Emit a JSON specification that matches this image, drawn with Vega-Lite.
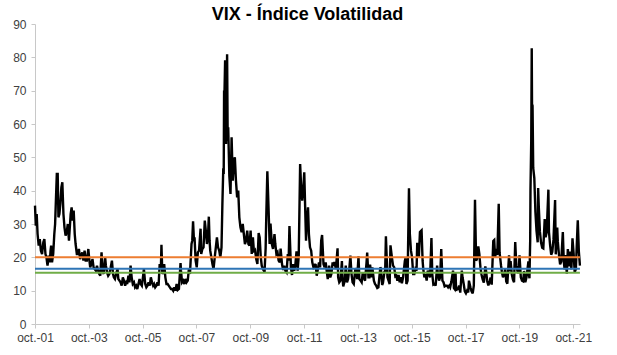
{
  "$schema": "https://vega.github.io/schema/vega-lite/v6.json",
  "width": 545,
  "height": 300,
  "autosize": {"type": "none"},
  "padding": {"left": 35, "top": 24, "right": 37, "bottom": 31},
  "background": "white",
  "config": {"view": {"stroke": null}, "font": "Liberation Sans",
    "axisY": {"values": [0,10,20,30,40,50,60,70,80,90], "title": null, "grid": false, "domainColor": "#c8c8c8", "tickColor": "#c8c8c8", "tickSize": 4, "labelPadding": 5, "labelFontSize": 12, "labelColor": "#404040", "labelFont": "Liberation Sans", "labelOverlap": false, "labelFlush": false},
    "axisX": {"title": null, "grid": false, "domainColor": "#c8c8c8", "tickColor": "#c8c8c8", "tickSize": 4, "labelPadding": 4, "labelFontSize": 12, "labelColor": "#404040", "labelFont": "Liberation Sans", "labelFlush": false, "labelOverlap": false}
  },
  "title": {"text": "VIX - Índice Volatilidad", "anchor": "middle", "offset": 4, "dy": 24, "baseline": "alphabetic", "fontSize": 18, "font": "Liberation Sans", "fontWeight": "bold", "color": "#000000"},
  "datasets": {
    "vix": [
      {"d":"2001-10-01","v":35.5},{"d":"2001-10-12","v":29.5},{"d":"2001-10-24","v":33},{"d":"2001-11-05","v":27},{"d":"2001-11-20","v":23.5},{"d":"2001-12-05","v":25.5},{"d":"2001-12-20","v":22},
      {"d":"2002-01-05","v":21},{"d":"2002-01-22","v":24.5},{"d":"2002-02-05","v":25.5},{"d":"2002-02-20","v":21},{"d":"2002-03-05","v":20},{"d":"2002-03-20","v":17.5},{"d":"2002-04-05","v":20.5},{"d":"2002-04-20","v":18.5},{"d":"2002-04-30","v":22},{"d":"2002-05-08","v":23.5},{"d":"2002-05-20","v":18.5},{"d":"2002-06-05","v":21},{"d":"2002-06-20","v":27},{"d":"2002-07-01","v":30},{"d":"2002-07-10","v":36},{"d":"2002-07-24","v":45},{"d":"2002-08-05","v":45},{"d":"2002-08-15","v":32},{"d":"2002-08-28","v":33},{"d":"2002-09-10","v":36},{"d":"2002-09-24","v":41},{"d":"2002-10-07","v":42.5},{"d":"2002-10-22","v":33},{"d":"2002-11-05","v":29},{"d":"2002-11-20","v":26.5},{"d":"2002-12-05","v":27.5},{"d":"2002-12-20","v":30},
      {"d":"2003-01-05","v":25},{"d":"2003-01-28","v":33},{"d":"2003-02-10","v":35},{"d":"2003-02-24","v":31},{"d":"2003-03-10","v":34},{"d":"2003-03-24","v":27},{"d":"2003-04-05","v":24},{"d":"2003-04-22","v":21},{"d":"2003-05-05","v":21},{"d":"2003-05-20","v":22.5},{"d":"2003-06-05","v":19.5},{"d":"2003-06-20","v":20.5},{"d":"2003-07-05","v":21.5},{"d":"2003-07-20","v":19},{"d":"2003-08-05","v":22},{"d":"2003-08-20","v":19},{"d":"2003-09-05","v":19},{"d":"2003-09-25","v":22.5},{"d":"2003-10-05","v":20},{"d":"2003-10-20","v":17},{"d":"2003-11-05","v":18},{"d":"2003-11-20","v":19.5},{"d":"2003-12-05","v":17},{"d":"2003-12-20","v":16.5},
      {"d":"2004-01-05","v":16},{"d":"2004-01-20","v":17.5},{"d":"2004-02-05","v":16},{"d":"2004-02-20","v":15},{"d":"2004-03-05","v":14.5},{"d":"2004-03-22","v":21.5},{"d":"2004-04-05","v":16},{"d":"2004-04-20","v":15},{"d":"2004-05-10","v":20},{"d":"2004-05-20","v":17.5},{"d":"2004-06-05","v":15.5},{"d":"2004-06-20","v":14.5},{"d":"2004-07-05","v":15},{"d":"2004-07-25","v":17},{"d":"2004-08-10","v":19},{"d":"2004-08-25","v":15},{"d":"2004-09-05","v":14},{"d":"2004-09-20","v":13.5},{"d":"2004-10-05","v":15},{"d":"2004-10-25","v":16.5},{"d":"2004-11-05","v":13.5},{"d":"2004-11-20","v":13},{"d":"2004-12-05","v":12.5},{"d":"2004-12-20","v":11.5},
      {"d":"2005-01-05","v":14},{"d":"2005-01-20","v":13},{"d":"2005-02-05","v":11.5},{"d":"2005-02-20","v":12.5},{"d":"2005-03-05","v":12},{"d":"2005-03-22","v":14.5},{"d":"2005-04-05","v":12.5},{"d":"2005-04-20","v":17.5},{"d":"2005-05-05","v":14},{"d":"2005-05-20","v":12},{"d":"2005-06-05","v":12.5},{"d":"2005-06-20","v":11},{"d":"2005-07-05","v":11.5},{"d":"2005-07-20","v":10.5},{"d":"2005-08-05","v":12},{"d":"2005-08-20","v":13.5},{"d":"2005-09-05","v":12},{"d":"2005-09-20","v":11.5},{"d":"2005-10-05","v":14},{"d":"2005-10-18","v":16.5},{"d":"2005-11-05","v":12},{"d":"2005-11-20","v":11},{"d":"2005-12-05","v":11.5},{"d":"2005-12-20","v":12.5},
      {"d":"2006-01-05","v":11.5},{"d":"2006-01-20","v":14},{"d":"2006-02-05","v":12.5},{"d":"2006-02-20","v":11.5},{"d":"2006-03-05","v":12},{"d":"2006-03-20","v":11},{"d":"2006-04-05","v":11.5},{"d":"2006-04-20","v":12.5},{"d":"2006-05-05","v":11.5},{"d":"2006-05-20","v":18},{"d":"2006-06-05","v":16.5},{"d":"2006-06-13","v":23.8},{"d":"2006-06-25","v":15},{"d":"2006-07-05","v":15.5},{"d":"2006-07-20","v":18},{"d":"2006-08-05","v":14},{"d":"2006-08-20","v":12},{"d":"2006-09-05","v":12},{"d":"2006-09-20","v":11.5},{"d":"2006-10-05","v":11},{"d":"2006-10-20","v":10.5},{"d":"2006-11-05","v":10.5},{"d":"2006-11-20","v":10},{"d":"2006-12-05","v":11},{"d":"2006-12-20","v":10},
      {"d":"2007-01-05","v":12},{"d":"2007-01-20","v":10.2},{"d":"2007-02-05","v":10.5},{"d":"2007-02-27","v":18.3},{"d":"2007-03-05","v":16},{"d":"2007-03-20","v":12.5},{"d":"2007-04-05","v":13},{"d":"2007-04-20","v":12},{"d":"2007-05-05","v":13.5},{"d":"2007-05-20","v":12.5},{"d":"2007-06-05","v":13},{"d":"2007-06-20","v":16.5},{"d":"2007-07-05","v":15},{"d":"2007-07-26","v":24},{"d":"2007-08-05","v":25},{"d":"2007-08-16","v":30.8},{"d":"2007-08-28","v":25},{"d":"2007-09-05","v":26},{"d":"2007-09-20","v":19},{"d":"2007-10-05","v":17},{"d":"2007-10-20","v":21.5},{"d":"2007-11-05","v":22},{"d":"2007-11-26","v":28.6},{"d":"2007-12-05","v":21},{"d":"2007-12-20","v":22.5},
      {"d":"2008-01-05","v":23},{"d":"2008-01-22","v":31},{"d":"2008-02-05","v":28},{"d":"2008-02-20","v":24},{"d":"2008-03-05","v":26},{"d":"2008-03-17","v":32.2},{"d":"2008-03-27","v":25},{"d":"2008-04-05","v":22},{"d":"2008-04-20","v":20},{"d":"2008-05-05","v":18},{"d":"2008-05-20","v":16.5},{"d":"2008-06-05","v":20},{"d":"2008-06-20","v":23},{"d":"2008-07-05","v":26},{"d":"2008-07-20","v":23},{"d":"2008-08-05","v":22},{"d":"2008-08-20","v":20},{"d":"2008-09-05","v":23},{"d":"2008-09-17","v":36},{"d":"2008-09-29","v":46.7},{"d":"2008-10-05","v":45},{"d":"2008-10-10","v":69.9},{"d":"2008-10-16","v":70},{"d":"2008-10-24","v":79.1},{"d":"2008-11-05","v":54},{"d":"2008-11-20","v":80.9},{"d":"2008-11-28","v":55},{"d":"2008-12-05","v":59},{"d":"2008-12-20","v":44.5},
      {"d":"2009-01-05","v":39},{"d":"2009-01-20","v":56},{"d":"2009-02-05","v":43},{"d":"2009-02-20","v":49},{"d":"2009-03-05","v":50},{"d":"2009-03-20","v":43},{"d":"2009-04-05","v":38},{"d":"2009-04-20","v":40},{"d":"2009-05-05","v":32},{"d":"2009-05-20","v":29},{"d":"2009-06-05","v":27.5},{"d":"2009-06-20","v":30},{"d":"2009-07-05","v":27},{"d":"2009-07-20","v":24},{"d":"2009-08-05","v":25},{"d":"2009-08-20","v":28},{"d":"2009-09-05","v":24},{"d":"2009-09-20","v":23.5},{"d":"2009-10-05","v":28},{"d":"2009-10-20","v":21},{"d":"2009-11-05","v":26},{"d":"2009-11-20","v":21.5},{"d":"2009-12-05","v":22},{"d":"2009-12-20","v":19.5},
      {"d":"2010-01-05","v":18},{"d":"2010-01-22","v":27.3},{"d":"2010-02-05","v":26},{"d":"2010-02-20","v":20},{"d":"2010-03-05","v":17.5},{"d":"2010-03-20","v":16.5},{"d":"2010-04-12","v":15.6},{"d":"2010-04-27","v":22.8},{"d":"2010-05-06","v":32.8},{"d":"2010-05-20","v":45.8},{"d":"2010-06-05","v":35},{"d":"2010-06-20","v":24},{"d":"2010-07-02","v":30.1},{"d":"2010-07-20","v":24},{"d":"2010-08-05","v":22.5},{"d":"2010-08-25","v":27},{"d":"2010-09-05","v":24},{"d":"2010-09-20","v":21},{"d":"2010-10-05","v":21.5},{"d":"2010-10-20","v":19},{"d":"2010-11-05","v":18.5},{"d":"2010-11-16","v":22.6},{"d":"2010-12-05","v":18},{"d":"2010-12-20","v":16.2},
      {"d":"2011-01-05","v":17.5},{"d":"2011-01-20","v":16},{"d":"2011-02-05","v":15.5},{"d":"2011-02-22","v":21},{"d":"2011-03-05","v":19},{"d":"2011-03-16","v":29.4},{"d":"2011-04-05","v":17},{"d":"2011-04-20","v":14.7},{"d":"2011-05-05","v":18},{"d":"2011-05-20","v":16},{"d":"2011-06-05","v":18},{"d":"2011-06-20","v":21.8},{"d":"2011-07-05","v":16},{"d":"2011-07-20","v":20.5},{"d":"2011-08-08","v":48},{"d":"2011-08-20","v":42},{"d":"2011-09-05","v":37},{"d":"2011-09-22","v":41.3},{"d":"2011-10-03","v":45.5},{"d":"2011-10-27","v":25},{"d":"2011-11-05","v":30},{"d":"2011-11-23","v":35},{"d":"2011-12-05","v":27},{"d":"2011-12-20","v":23},
      {"d":"2012-01-05","v":22},{"d":"2012-01-20","v":18.5},{"d":"2012-02-05","v":17},{"d":"2012-02-20","v":17.5},{"d":"2012-03-05","v":18},{"d":"2012-03-20","v":14.5},{"d":"2012-04-05","v":16.5},{"d":"2012-04-20","v":18.5},{"d":"2012-05-05","v":17},{"d":"2012-05-20","v":25},{"d":"2012-06-01","v":26.7},{"d":"2012-06-20","v":18},{"d":"2012-07-05","v":17},{"d":"2012-07-20","v":18.5},{"d":"2012-08-05","v":15.5},{"d":"2012-08-17","v":13.5},{"d":"2012-09-05","v":17.5},{"d":"2012-09-20","v":14},{"d":"2012-10-05","v":15},{"d":"2012-10-22","v":18.5},{"d":"2012-11-05","v":17.5},{"d":"2012-11-15","v":18.6},{"d":"2012-12-05","v":16.5},{"d":"2012-12-28","v":22.7},
      {"d":"2013-01-05","v":14},{"d":"2013-01-20","v":12.5},{"d":"2013-02-05","v":13},{"d":"2013-02-25","v":18.9},{"d":"2013-03-05","v":14},{"d":"2013-03-15","v":11.3},{"d":"2013-04-05","v":13},{"d":"2013-04-18","v":17.5},{"d":"2013-05-05","v":12.5},{"d":"2013-05-20","v":13.5},{"d":"2013-06-05","v":16.5},{"d":"2013-06-20","v":20.5},{"d":"2013-07-05","v":15},{"d":"2013-07-20","v":12.5},{"d":"2013-08-05","v":12},{"d":"2013-08-27","v":16.8},{"d":"2013-09-05","v":16},{"d":"2013-09-20","v":13.5},{"d":"2013-10-08","v":20.3},{"d":"2013-10-20","v":13.5},{"d":"2013-11-05","v":13},{"d":"2013-11-20","v":12.5},{"d":"2013-12-05","v":15.5},{"d":"2013-12-20","v":13.8},
      {"d":"2014-01-05","v":13},{"d":"2014-01-24","v":18.1},{"d":"2014-02-03","v":21.4},{"d":"2014-02-20","v":14},{"d":"2014-03-05","v":14},{"d":"2014-03-14","v":17.8},{"d":"2014-04-05","v":14},{"d":"2014-04-14","v":17},{"d":"2014-05-05","v":13},{"d":"2014-05-20","v":12},{"d":"2014-06-05","v":11.5},{"d":"2014-06-20","v":10.8},{"d":"2014-07-05","v":11},{"d":"2014-07-31","v":17},{"d":"2014-08-08","v":16.7},{"d":"2014-08-25","v":11.7},{"d":"2014-09-05","v":12.3},{"d":"2014-09-25","v":15.6},{"d":"2014-10-05","v":16},{"d":"2014-10-15","v":26.3},{"d":"2014-11-05","v":14},{"d":"2014-11-20","v":13},{"d":"2014-12-05","v":12},{"d":"2014-12-16","v":23.6},
      {"d":"2015-01-05","v":19.9},{"d":"2015-01-20","v":17.5},{"d":"2015-02-05","v":17},{"d":"2015-02-20","v":14.3},{"d":"2015-03-05","v":14.5},{"d":"2015-03-20","v":13},{"d":"2015-04-05","v":14.7},{"d":"2015-04-20","v":12.5},{"d":"2015-05-05","v":14},{"d":"2015-05-20","v":12.2},{"d":"2015-06-05","v":14},{"d":"2015-06-29","v":18.9},{"d":"2015-07-08","v":19.7},{"d":"2015-07-20","v":12},{"d":"2015-08-05","v":13},{"d":"2015-08-24","v":40.7},{"d":"2015-09-05","v":27},{"d":"2015-09-20","v":22},{"d":"2015-10-05","v":20},{"d":"2015-10-20","v":15},{"d":"2015-11-05","v":15},{"d":"2015-11-20","v":16.5},{"d":"2015-12-05","v":16},{"d":"2015-12-14","v":24.4},
      {"d":"2016-01-05","v":20},{"d":"2016-01-20","v":27.6},{"d":"2016-02-11","v":28.1},{"d":"2016-02-25","v":19},{"d":"2016-03-05","v":16.5},{"d":"2016-03-20","v":14},{"d":"2016-04-05","v":15},{"d":"2016-04-20","v":13},{"d":"2016-05-05","v":16},{"d":"2016-05-20","v":15},{"d":"2016-06-05","v":14},{"d":"2016-06-24","v":25.8},{"d":"2016-07-05","v":15},{"d":"2016-07-20","v":11.8},{"d":"2016-08-05","v":12},{"d":"2016-08-20","v":11.5},{"d":"2016-09-09","v":17.5},{"d":"2016-09-20","v":15},{"d":"2016-10-05","v":13},{"d":"2016-10-20","v":14},{"d":"2016-11-04","v":22.5},{"d":"2016-11-20","v":13},{"d":"2016-12-05","v":12.5},{"d":"2016-12-20","v":11.3},
      {"d":"2017-01-05","v":11.5},{"d":"2017-01-20","v":11.5},{"d":"2017-02-05","v":11},{"d":"2017-02-20","v":11.5},{"d":"2017-03-05","v":11},{"d":"2017-03-22","v":12.8},{"d":"2017-04-13","v":16},{"d":"2017-04-25","v":10.8},{"d":"2017-05-05","v":10.5},{"d":"2017-05-17","v":15.6},{"d":"2017-05-25","v":10},{"d":"2017-06-05","v":10.5},{"d":"2017-06-20","v":10.5},{"d":"2017-07-05","v":11.5},{"d":"2017-07-20","v":9.4},{"d":"2017-08-10","v":16},{"d":"2017-08-20","v":14},{"d":"2017-09-05","v":12},{"d":"2017-09-20","v":9.8},{"d":"2017-10-05","v":9.2},{"d":"2017-10-20","v":10},{"d":"2017-11-05","v":9.5},{"d":"2017-11-15","v":13},{"d":"2017-12-05","v":11},{"d":"2017-12-20","v":9.8},
      {"d":"2018-01-05","v":9.2},{"d":"2018-01-20","v":11.5},{"d":"2018-02-05","v":37.3},{"d":"2018-02-20","v":19},{"d":"2018-03-05","v":19.6},{"d":"2018-03-22","v":23.3},{"d":"2018-04-05","v":21},{"d":"2018-04-20","v":16.9},{"d":"2018-05-05","v":14.8},{"d":"2018-05-20","v":13.4},{"d":"2018-06-05","v":12.4},{"d":"2018-06-25","v":17.3},{"d":"2018-07-05","v":16},{"d":"2018-07-20","v":12.9},{"d":"2018-08-05","v":11.6},{"d":"2018-08-20","v":12.5},{"d":"2018-09-05","v":13.9},{"d":"2018-09-20","v":11.8},{"d":"2018-10-11","v":24.9},{"d":"2018-10-24","v":25.2},{"d":"2018-11-05","v":19.9},{"d":"2018-11-20","v":22.5},{"d":"2018-12-05","v":20.7},{"d":"2018-12-24","v":36.1},
      {"d":"2019-01-05","v":21.4},{"d":"2019-01-25","v":17.4},{"d":"2019-02-05","v":15.6},{"d":"2019-02-20","v":14},{"d":"2019-03-05","v":14.7},{"d":"2019-03-22","v":16.5},{"d":"2019-04-05","v":12.8},{"d":"2019-04-20","v":12.1},{"d":"2019-05-13","v":20.6},{"d":"2019-05-25","v":15.8},{"d":"2019-06-03","v":18.9},{"d":"2019-06-20","v":14.8},{"d":"2019-07-05","v":13.3},{"d":"2019-07-20","v":12.5},{"d":"2019-08-05","v":24.6},{"d":"2019-08-20","v":17.5},{"d":"2019-09-05","v":15.8},{"d":"2019-09-20","v":15.3},{"d":"2019-10-02","v":20.6},{"d":"2019-10-20","v":14},{"d":"2019-11-05","v":13},{"d":"2019-11-20","v":12.8},{"d":"2019-12-03","v":15.9},{"d":"2019-12-20","v":12.5},
      {"d":"2020-01-05","v":14},{"d":"2020-01-31","v":18.8},{"d":"2020-02-05","v":15.2},{"d":"2020-02-14","v":13.7},{"d":"2020-02-24","v":25},{"d":"2020-02-28","v":40.1},{"d":"2020-03-09","v":54.5},{"d":"2020-03-16","v":82.7},{"d":"2020-03-20","v":66},{"d":"2020-03-27","v":65.5},{"d":"2020-04-05","v":46.8},{"d":"2020-04-20","v":43.8},{"d":"2020-05-05","v":33.6},{"d":"2020-05-20","v":27.9},{"d":"2020-06-05","v":24.5},{"d":"2020-06-11","v":40.8},{"d":"2020-06-20","v":35},{"d":"2020-07-05","v":27.7},{"d":"2020-07-20","v":24.5},{"d":"2020-08-05","v":22.9},{"d":"2020-08-20","v":22.7},{"d":"2020-09-08","v":31.5},{"d":"2020-09-20","v":26},{"d":"2020-10-05","v":27.5},{"d":"2020-10-28","v":40.3},{"d":"2020-11-05","v":27.6},{"d":"2020-11-20","v":23.7},{"d":"2020-12-05","v":20.8},{"d":"2020-12-20","v":21.6},
      {"d":"2021-01-05","v":25.3},{"d":"2021-01-27","v":37.2},{"d":"2021-02-05","v":20.9},{"d":"2021-02-25","v":28.9},{"d":"2021-03-05","v":24.7},{"d":"2021-03-20","v":20.9},{"d":"2021-04-05","v":17.9},{"d":"2021-04-20","v":18.7},{"d":"2021-05-12","v":27.6},{"d":"2021-05-25","v":18.8},{"d":"2021-06-05","v":16.4},{"d":"2021-06-18","v":20.7},{"d":"2021-07-05","v":15.1},{"d":"2021-07-19","v":22.5},{"d":"2021-08-05","v":17.3},{"d":"2021-08-19","v":21.7},{"d":"2021-09-05","v":16.4},{"d":"2021-09-20","v":25.7},{"d":"2021-10-05","v":21.3},{"d":"2021-10-20","v":15.5},{"d":"2021-11-05","v":16.5},{"d":"2021-11-26","v":28.6},{"d":"2021-12-01","v":31.1},{"d":"2021-12-15","v":21.9},{"d":"2021-12-30","v":17.5}
    ],
    "refs": [
      {"s":"a","y":20,"x0":"2001-10-01","x1":"2021-12-30"},
      {"s":"b","y":16.6,"x0":"2001-10-01","x1":"2021-12-30"},
      {"s":"c","y":15.4,"x0":"2001-10-01","x1":"2021-12-30"}
    ]
  },
  "layer": [
    {
      "data": {"name": "vix"},
      "mark": {"type": "line", "color": "#000000", "strokeWidth": 2.4, "strokeJoin": "miter", "strokeMiterLimit": 3},
      "encoding": {
        "x": {"field": "d", "type": "temporal",
          "scale": {"domain": ["2001-10-01", "2021-12-31"]},
          "axis": {"values": ["2001-10-01","2003-10-01","2005-10-01","2007-10-01","2009-10-01","2011-10-01","2013-10-01","2015-10-01","2017-10-01","2019-10-01","2021-10-01"],
            "labelExpr": "'oct.-' + timeFormat(datum.value, '%y')"}},
        "y": {"field": "v", "type": "quantitative",
          "scale": {"domain": [0, 90], "nice": false},
          "axis": {"values": [0,10,20,30,40,50,60,70,80,90], "tickCount": 10}}
      }
    },
    {
      "data": {"name": "refs"},
      "mark": {"type": "rule", "strokeWidth": 2},
      "encoding": {
        "x": {"field": "x0", "type": "temporal"},
        "x2": {"field": "x1"},
        "y": {"field": "y", "type": "quantitative", "axis": {"values": [0,10,20,30,40,50,60,70,80,90], "tickCount": 10}},
        "color": {"field": "s", "type": "nominal", "scale": {"domain": ["a","b","c"], "range": ["#ED7D31","#2E75B6","#70AD47"]}, "legend": null}
      }
    }
  ]
}
